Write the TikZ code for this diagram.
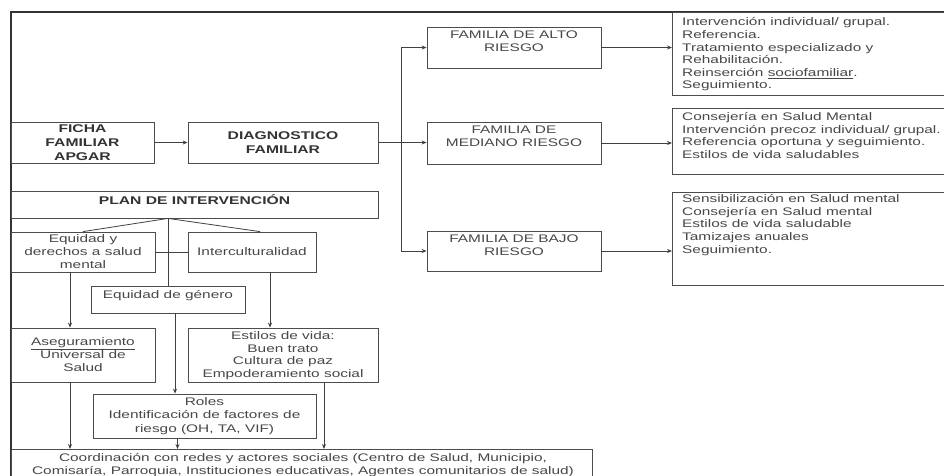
\documentclass[tikz,border=0pt]{standalone}
\usepackage{fontspec}
\setmainfont{Liberation Sans}[FakeStretch=1.4]
\usetikzlibrary{arrows.meta,calc}
\begin{document}
\begin{tikzpicture}[x=1pt,y=-1pt,
  bx/.style={draw=black!70, line width=0.8pt, rectangle, inner sep=0pt},
  lbl/.style={text=black!72, align=center, font=\fontsize{11}{13}\selectfont, inner sep=0pt},
  blbl/.style={text=black!80, align=center, font=\fontsize{11.2}{14}\selectfont\bfseries, inner sep=0pt},
  lst/.style={text=black!72, align=left, font=\fontsize{11}{12.6}\selectfont, inner sep=0pt, anchor=west},
  ln/.style={draw=black!75, line width=0.8pt},
  arr/.style={ln, -{Stealth[length=5pt,width=4pt]}},
  frame/.style={draw=black!80, line width=1.3pt}
]
\useasboundingbox (0,0) rectangle (944,475);
% outer frame (top and left edges)
\coordinate (fTR) at (944,12);
\coordinate (fTL) at (11,12);
\coordinate (fBL) at (11,480);
\draw[frame] (fTR) -- (fTL) -- (fBL);

% top row
\node[bx, blbl, minimum width=143pt, minimum height=41pt] (ficha) at (82.5,142.5) {FICHA\\FAMILIAR\\APGAR};
\node[bx, blbl, minimum width=190pt, minimum height=41pt] (diag) at (283,142.5) {DIAGNOSTICO\\FAMILIAR};

% family boxes
\node[bx, minimum width=174pt, minimum height=41pt] (alto) at (514,47.5) {};
\node[lbl] (altoT) at (514,41.5) {FAMILIA DE ALTO\\RIESGO};
\node[bx, minimum width=174pt, minimum height=42pt] (med) at (514,143) {};
\node[lbl] (medT) at (514,136.5) {FAMILIA DE\\MEDIANO RIESGO};
\node[bx, minimum width=174pt, minimum height=40pt] (bajo) at (514,251) {};
\node[lbl] (bajoT) at (514,245) {FAMILIA DE BAJO\\RIESGO};

% right list boxes
\node[bx, anchor=north west, minimum width=300pt, minimum height=83pt] (altoR) at (672,12) {};
\node[lst] (altoL) at (682,54.5) {Intervención individual/ grupal.\\Referencia.\\Tratamiento especializado y\\Rehabilitación.\\Reinserción \underline{sociofamiliar}.\\Seguimiento.};
\node[bx, anchor=north west, minimum width=300pt, minimum height=66pt] (medR) at (672,108) {};
\node[lst] (medL) at (682,135.5) {Consejería en Salud Mental\\Intervención precoz individual/ grupal.\\Referencia oportuna y seguimiento.\\Estilos de vida saludables};
\node[bx, anchor=north west, minimum width=300pt, minimum height=93pt] (bajoR) at (672,192) {};
\node[lst] (bajoL) at (682,225) {Sensibilización en Salud mental\\Consejería en Salud mental\\Estilos de vida saludable\\Tamizajes anuales\\Seguimiento.};

% plan
\node[bx, minimum width=367pt, minimum height=27pt] (plan) at (194.5,204.5) {};
\node[blbl] (planT) at (194.5,199.5) {PLAN DE INTERVENCIÓN};

\node[bx, lbl, minimum width=144pt, minimum height=40pt] (eqder) at (83,252) {Equidad y\\derechos a salud\\mental};
\node[bx, lbl, minimum width=128pt, minimum height=40pt] (inter) at (252,252) {Interculturalidad};
\node[bx, minimum width=154pt, minimum height=27pt] (eqgen) at (168,299.5) {};
\node[lbl] (eqgenT) at (168,295.5) {Equidad de género};

\node[bx, lbl, minimum width=144pt, minimum height=54pt] (aseg) at (83,355) {\underline{Aseguramiento}\\Universal de\\Salud};
\node[bx, minimum width=190pt, minimum height=54pt] (estilos) at (283,355) {};
\node[lbl, font=\fontsize{11}{12.7}\selectfont] (estilosT) at (283,355.5) {Estilos de vida:\\Buen trato\\Cultura de paz\\Empoderamiento social};
\node[bx, lbl, font=\fontsize{11}{13.5}\selectfont, minimum width=223pt, minimum height=44pt] (roles) at (204.5,416) {Roles\\Identificación de factores de\\riesgo (OH, TA, VIF)};

\node[bx, anchor=north west, minimum width=581pt, minimum height=45pt] (coord) at (11,449) {};
\node[lbl] (coordT) at (303,465) {Coordinación con redes y actores sociales (Centro de Salud, Municipio,\\Comisaría, Parroquia, Instituciones educativas, Agentes comunitarios de salud)};

% connectors: top
\draw[arr] (ficha.east) -- (diag.west);
\coordinate (jn) at (401,142.5);
\draw[ln] (diag.east) -- (jn);
\draw[arr] (jn) |- (alto.west);
\draw[arr] (jn) -- (med.west |- jn);
\draw[arr] (jn) |- (bajo.west);
\draw[arr] (alto.east) -- (alto.east -| altoR.west);
\draw[arr] (med.east) -- (med.east -| medR.west);
\draw[arr] (bajo.east) -- (bajo.east -| bajoR.west);

% connectors: plan
\coordinate (pf) at (eqgen.north |- plan.south);
\draw[ln] (pf) -- (eqgen.north);
\draw[ln] (pf) -- (eqder.north);
\draw[ln] (pf) -- ([xshift=8pt]inter.north);
\draw[ln] (eqder.east) -- (inter.west);
\draw[arr] ([xshift=-13pt]eqder.south) -- ([xshift=-13pt]aseg.north);
\draw[arr] ([xshift=18pt]inter.south) -- ([xshift=18pt]inter.south |- estilos.north);
\draw[arr] ([xshift=7pt]eqgen.south) -- ([xshift=7pt]eqgen.south |- roles.north);
\draw[arr] ([xshift=-13pt]aseg.south) -- ([xshift=-13pt]aseg.south |- coord.north);
\draw[arr] ([xshift=-27pt]roles.south) -- ([xshift=-27pt]roles.south |- coord.north);
\draw[arr] ([xshift=41pt]estilos.south) -- ([xshift=41pt]estilos.south |- coord.north);
\end{tikzpicture}
\end{document}
